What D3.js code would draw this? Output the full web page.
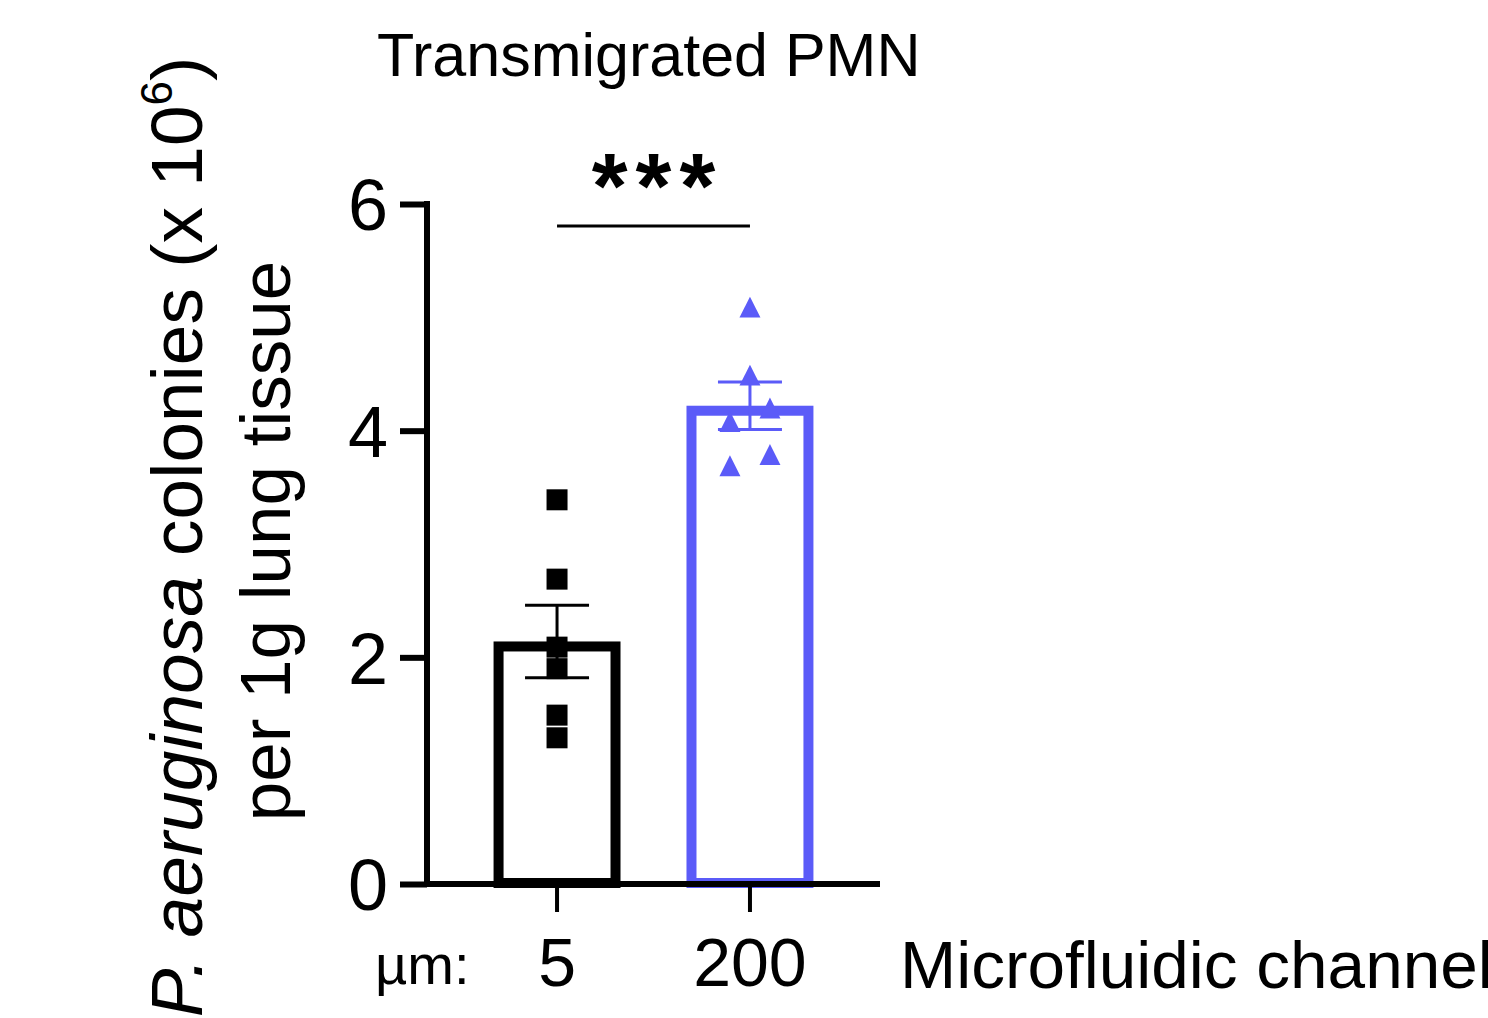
<!DOCTYPE html>
<html>
<head>
<meta charset="utf-8">
<script src="https://cdn.jsdelivr.net/npm/d3@7"></script>
<style>
  html, body { margin: 0; padding: 0; background: #fff; }
  svg { display: block; font-family: "Liberation Sans", Arial, Helvetica, sans-serif; }
</style>
</head>
<body>
<svg id="chart" width="1488" height="1018"></svg>
<script>
// ---- data ----
const categories = ["5", "200"];
const barMeans = [2.14, 4.22];
const barSEM = [0.32, 0.21];
const points5 = [3.39, 2.69, 2.09, 1.90, 1.49, 1.29];
const points200 = [5.09, 4.49, 4.20, 4.08, 3.79, 3.69];
const yTicks = [0, 2, 4, 6];
const colors = ["#000000", "#5b5bf8"];
const titleText = "Transmigrated PMN";
const xAxisTitle = "Microfluidic channel";
const unitLabel = "µm:";
const sigLabel = "***";

// ---- layout ----
const svg = d3.select("#chart");
const y = d3.scaleLinear().domain([0, 6]).range([884, 204]);
const x = d3.scaleBand().domain(categories).range([427, 880]).paddingInner(0.342).paddingOuter(0.345);
const jitter = [[0, 0, 0, 0, 0, 0], [0, 0, 20, -20, 20, -20]];
const allPoints = [points5, points200];
const barStroke = 10;

// bars (outline inset)
const bars = svg.append("g");
categories.forEach((c, i) => {
  bars.append("rect")
    .attr("x", x(c) + barStroke / 2)
    .attr("y", y(barMeans[i]) + barStroke / 2)
    .attr("width", x.bandwidth() - barStroke)
    .attr("height", y(0) - y(barMeans[i]) - barStroke / 2 - 1)
    .attr("fill", "none")
    .attr("stroke", colors[i])
    .attr("stroke-width", barStroke);
});

// error bars
const capW = 64;
const eb = svg.append("g");
categories.forEach((c, i) => {
  const cx = x(c) + x.bandwidth() / 2;
  const top = y(barMeans[i] + barSEM[i]), bot = y(barMeans[i] - barSEM[i]);
  eb.append("line").attr("x1", cx).attr("x2", cx).attr("y1", top).attr("y2", bot)
    .attr("stroke", colors[i]).attr("stroke-width", 3);
  [top, bot].forEach(yy => {
    eb.append("line").attr("x1", cx - capW / 2).attr("x2", cx + capW / 2).attr("y1", yy).attr("y2", yy)
      .attr("stroke", colors[i]).attr("stroke-width", 3);
  });
});

// points
const triBox = { draw(ctx, size) { const s = Math.sqrt(size); const h = s * 1.0; ctx.moveTo(0, -h / 2); ctx.lineTo(s / 2, h / 2); ctx.lineTo(-s / 2, h / 2); ctx.closePath(); } };
const symTypes = [d3.symbolSquare, triBox];
const symSizes = [441, 440];
const pts = svg.append("g");
allPoints.forEach((arr, i) => {
  const cx = x(categories[i]) + x.bandwidth() / 2;
  pts.selectAll(null).data(arr).enter().append("path")
    .attr("d", d3.symbol().type(symTypes[i]).size(symSizes[i]))
    .attr("transform", (d, j) => `translate(${cx + jitter[i][j]},${y(d)})`)
    .attr("fill", colors[i]);
});

// y axis
const yAxis = svg.append("g").attr("transform", "translate(427,0)")
  .call(d3.axisLeft(y).tickValues(yTicks).tickSize(27).tickSizeOuter(0).tickPadding(12).tickFormat(d3.format("d")));
yAxis.select(".domain").attr("stroke-width", 6).attr("stroke-linecap", "square").attr("d", `M0,${y(6)}V${y(0)}`);
yAxis.selectAll(".tick line").attr("stroke-width", 6);
yAxis.selectAll(".tick text").attr("font-size", 72).attr("font-family", "Liberation Sans, Arial, sans-serif").attr("fill", "#000").attr("dy", "0.36em");

// x axis
const xAxis = svg.append("g").attr("transform", `translate(0,${y(0)})`)
  .call(d3.axisBottom(x).tickSize(28).tickSizeOuter(0).tickPadding(26));
xAxis.select(".domain").attr("stroke-width", 6).attr("d", `M424,0H880`);
xAxis.selectAll(".tick line").attr("stroke-width", 4);
xAxis.selectAll(".tick text").attr("font-size", 68).attr("font-family", "Liberation Sans, Arial, sans-serif").attr("fill", "#000");

// unit label & axis title
svg.append("text").attr("x", 375).attr("y", 984).attr("font-size", 56).text(unitLabel);
svg.append("text").attr("x", 900).attr("y", 988).attr("font-size", 67.5).text(xAxisTitle);

// title
svg.append("text").attr("x", 377).attr("y", 76).attr("font-size", 61).text(titleText);

// significance
const c0 = x(categories[0]) + x.bandwidth() / 2, c1 = x(categories[1]) + x.bandwidth() / 2;
svg.append("line").attr("x1", c0).attr("x2", c1).attr("y1", 226).attr("y2", 226).attr("stroke", "#000").attr("stroke-width", 3);
svg.append("text").attr("x", (c0 + c1) / 2 + 4).attr("y", 218).attr("text-anchor", "middle")
  .attr("font-size", 92).attr("font-weight", "bold").attr("letter-spacing", 8).text(sigLabel);

// y label
const yl1 = svg.append("text").attr("transform", "translate(202,537) rotate(-90)").attr("text-anchor", "middle").attr("font-size", 73);
yl1.append("tspan").attr("font-style", "italic").text("P. aeruginosa");
yl1.append("tspan").text(" colonies (x 10");
yl1.append("tspan").attr("font-size", 44).attr("dy", -30).text("6");
yl1.append("tspan").attr("dy", 30).text(")");
svg.append("text").attr("transform", "translate(290,541) rotate(-90)").attr("text-anchor", "middle").attr("font-size", 71)
  .text("per 1g lung tissue");
</script>
</body>
</html>
